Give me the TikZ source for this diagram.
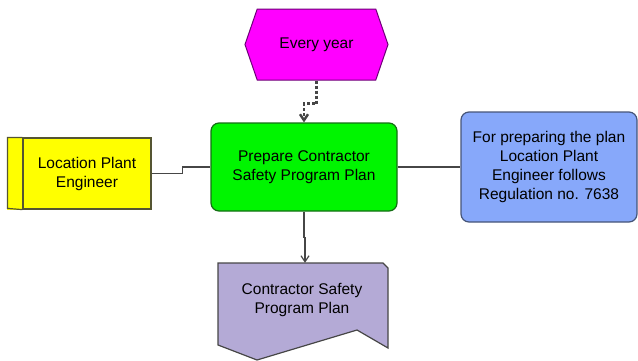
\documentclass[tikz,border=0pt]{standalone}
\usepackage{fontspec}
\setmainfont{Liberation Sans}
\usetikzlibrary{shapes.symbols,arrows.meta}

\definecolor{eventfill}{RGB}{255,0,255}
\definecolor{eventline}{RGB}{110,0,120}
\definecolor{funcfill}{RGB}{0,245,0}
\definecolor{funcline}{RGB}{20,110,20}
\definecolor{rolefill}{RGB}{255,255,0}
\definecolor{roleline}{RGB}{85,85,50}
\definecolor{rulefill}{RGB}{135,168,250}
\definecolor{ruleline}{RGB}{70,85,120}
\definecolor{docfill}{RGB}{180,170,214}
\definecolor{flowline}{RGB}{70,70,70}

\begin{document}
\begin{tikzpicture}[x=1pt,y=-1pt,
  font=\fontsize{15.5}{19}\selectfont,
  event/.style={signal, signal to=east and west, signal pointer angle=142,
    draw=eventline, fill=eventfill, line width=1pt,
    minimum width=143, minimum height=71, inner sep=0pt},
  func/.style={draw=funcline, fill=funcfill, line width=1.2pt, rounded corners=8pt,
    minimum width=186, minimum height=88, align=center},
  role/.style={draw=roleline, fill=rolefill, line width=1.2pt,
    minimum width=128, minimum height=71, align=center},
  rulebox/.style={draw=ruleline, fill=rulefill, line width=1.2pt, rounded corners=8pt,
    minimum width=176, minimum height=110, align=center},
  flow/.style={draw=flowline, line width=1.2pt,
    -{Straight Barb[length=6pt,width=8pt]}},
  link/.style={draw=flowline, line width=1.2pt}]

\useasboundingbox (0,0) rectangle (638,360);

% event
\node [event] (year) at (316.5,44.5) {Every year};

% function
\node [func] (prep) at (304,167) {Prepare Contractor\\Safety Program Plan};

% role, with its left bar
\node [role] (eng) at (87,173.5) {Location Plant\\Engineer};
\fill [rolefill] ([xshift=-15pt]eng.north west) rectangle (eng.south west);
\draw [roleline, line width=1.2pt] (eng.north west) -- ++(-15,0) -- ++(0,71)
  -- (eng.south west);
\draw [roleline, line width=0.8pt, dash pattern=on 1pt off 0.5pt]
  (eng.north west) -- (eng.south west);

% rule
\node [rulebox] (rule) at (549,167)
  {For preparing the plan\\Location Plant\\Engineer follows\\Regulation no. 7638};

% document
\draw [draw=flowline, fill=docfill, line width=1.2pt]
  (218,263) -- (383,263) -- (388,268) -- (388,348) -- (357,330)
  -- (257,360) -- (218,345) -- cycle;
\node [minimum width=166, minimum height=74, align=center] (doc) at (302,300)
  {Contractor Safety\\Program Plan};

% connectors
\draw [flow, dash pattern=on 3pt off 2pt, line width=2.4pt]
  (year.south) -- ++(0,23) -| (prep.north);
\draw [flow] (prep.south) -- ++(0,26) -| ([xshift=3pt]doc.north);
\draw [link] (eng.east) -- ++(31,0) |- (prep.west);
\draw [link] (prep.east) -- (rule.west);

\end{tikzpicture}
\end{document}
